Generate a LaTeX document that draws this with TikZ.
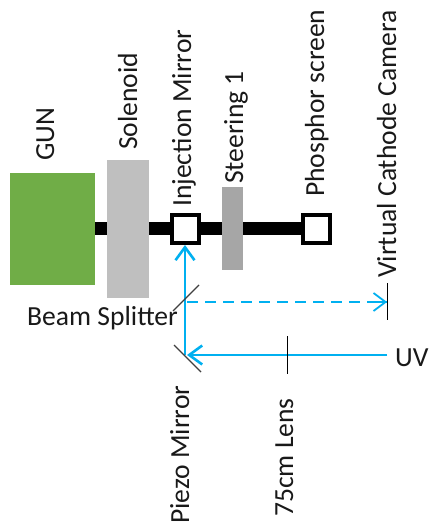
\documentclass[tikz,border=0pt]{standalone}
\usepackage{fontspec}
\setmainfont{Carlito}
\usetikzlibrary{arrows.meta}
\definecolor{beamblue}{HTML}{00B0F0}
\tikzset{
 lbl/.style={font=\fontsize{27.6}{30}\selectfont,inner sep=0pt,text=black!90},
 vlbl/.style={lbl,rotate=90,anchor=base west},
 sq/.style={draw=black,line width=4pt,fill=white,minimum size=27pt,inner sep=0pt},
 beam/.style={draw=beamblue,line width=2.6pt,-{Straight Barb[length=13pt,width=19pt,line width=2.6pt]}},
 dbeam/.style={draw=beamblue,line width=1.8pt,dash pattern=on 11pt off 7pt},
 tick/.style={draw=black,line width=1pt},
 optic/.style={draw=black!75,line width=1.2pt}
}
\begin{document}
\begin{tikzpicture}[x=1pt,y=-1pt]
\useasboundingbox (0,0) rectangle (429,526);
\fill[white] (0,0) rectangle (429,526);
% blocks
\node[fill={rgb,255:red,112;green,173;blue,71},minimum width=85pt,minimum height=112pt,inner sep=0pt] (gun) at (52.5,229) {};
\node[fill=black,minimum width=207pt,minimum height=13pt,inner sep=0pt] (bar) at (198.5,228.5) {};
\node[fill={rgb,255:red,191;green,191;blue,191},minimum width=42pt,minimum height=138pt,inner sep=0pt] (sol) at (128,229) {};
\node[fill={rgb,255:red,166;green,166;blue,166},minimum width=21pt,minimum height=83pt,inner sep=0pt] (steer) at (232.5,228.5) {};
\node[sq] (inj) at (185,229) {};
\node[sq] (phos) at (316,229) {};
% coordinates
\coordinate (pz) at (187,355);
\coordinate (bs) at (187,302);
\coordinate (uvend) at (387,355);
\coordinate (vcc) at (387,302);
\coordinate (injb) at (185,245);
% beams
\draw[beam] (pz -| injb) -- (injb);
\draw[beam] (uvend) -- (pz);
\draw[dbeam] (bs) -- (vcc);
\draw[draw=beamblue,line width=1.8pt,-{Straight Barb[length=12pt,width=18pt,line width=1.8pt]}] (370,302) -- (vcc);
% optics
\coordinate (bs1) at (173,311); \coordinate (bs2) at (199,285);
\coordinate (pm1) at (174,345); \coordinate (pm2) at (201,372);
\coordinate (ln1) at (287,336); \coordinate (ln2) at (287,374);
\coordinate (vc1) at (387,283); \coordinate (vc2) at (387,320);
\draw[optic] (bs1) -- (bs2);
\draw[optic] (pm1) -- (pm2);
\draw[tick] (ln1) -- (ln2);
\draw[tick] (vc1) -- (vc2);
% labels
\node[vlbl] (t1) at (54,161) {GUN};
\node[vlbl] (t2) at (137,150) {Solenoid};
\node[vlbl] (t3) at (191,207) {Injection Mirror};
\node[vlbl] (t4) at (243,184) {Steering 1};
\node[vlbl] (t5) at (324,197) {Phosphor screen};
\node[vlbl] (t6) at (396,278) {Virtual Cathode Camera};
\node[lbl,anchor=base west] (t7) at (27,325) {Beam Splitter};
\node[lbl,anchor=base west] (t8) at (395,366) {UV};
\node[vlbl] (t9) at (189,524) {Piezo Mirror};
\node[vlbl] (t10) at (293,517) {75cm Lens};
\end{tikzpicture}
\end{document}
